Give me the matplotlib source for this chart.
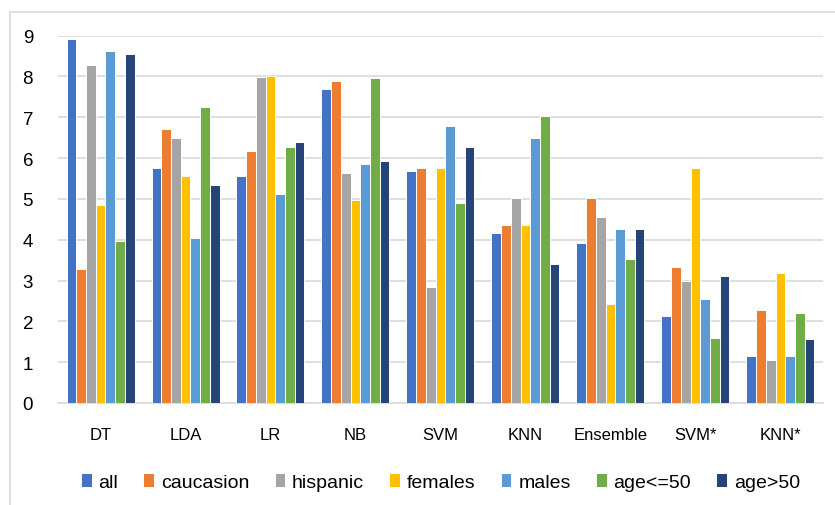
import numpy as np
import matplotlib.pyplot as plt
from matplotlib.patches import Rectangle

plt.rcParams['font.family'] = ['Liberation Sans Narrow', 'Liberation Sans', 'DejaVu Sans']

models = ["DT", "LDA", "LR", "NB", "SVM", "KNN", "Ensemble", "SVM*", "KNN*"]

all_ = [8.92, 5.75, 5.55, 7.69, 5.68, 4.17, 3.91, 2.12, 1.14]
caucasion = [3.28, 6.71, 6.18, 7.90, 5.75, 4.35, 5.02, 3.32, 2.29]
hispanic = [8.28, 6.50, 7.98, 5.63, 2.85, 5.03, 4.56, 2.98, 1.05]
females = [4.86, 5.55, 8.00, 4.98, 5.75, 4.35, 2.42, 5.75, 3.19]
males = [8.63, 4.04, 5.11, 5.85, 6.78, 6.49, 4.26, 2.55, 1.14]
age_le50 = [3.97, 7.25, 6.27, 7.97, 4.90, 7.04, 3.53, 1.60, 2.21]
age_gt50 = [8.55, 5.33, 6.40, 5.92, 6.27, 3.40, 4.26, 3.10, 1.56]

series = [
    ("all", all_, "#4472C4"),
    ("caucasion", caucasion, "#ED7D31"),
    ("hispanic", hispanic, "#A5A5A5"),
    ("females", females, "#FFC000"),
    ("males", males, "#5B9BD5"),
    ("age<=50", age_le50, "#70AD47"),
    ("age>50", age_gt50, "#264478"),
]

fig = plt.figure(figsize=(8.35, 5.06), dpi=100)
ax = fig.add_axes([0.0695, 0.2016, 0.916, 0.7259])

x = np.arange(len(models))
w = 0.8 / len(series)
for i, (name, vals, color) in enumerate(series):
    ax.bar(x - 0.4 + w * (i + 0.5), vals, w, color=color, label=name,
           edgecolor="white", linewidth=0.7, zorder=3)

ax.set_xlim(-0.5, len(models) - 0.5)
ax.set_ylim(0, 9)
ax.set_yticks(range(10))
ax.set_xticks(x)
ax.set_xticklabels(models, fontsize=12)
ax.tick_params(axis="y", labelsize=13.5, length=0, pad=18)
ax.tick_params(axis="x", length=0, pad=17)
ax.grid(axis="y", color="#D9D9D9", linewidth=1.2, zorder=0)
for s in ["top", "right", "left"]:
    ax.spines[s].set_visible(False)
ax.spines["bottom"].set_color("#D9D9D9")
ax.spines["bottom"].set_linewidth(1.2)

ax.legend(loc="center", bbox_to_anchor=(0.5, -0.215), ncol=7, frameon=False,
          fontsize=14, handlelength=0.55, handleheight=0.7, handletextpad=0.35,
          columnspacing=1.3)

# light frame around the chart
fig.patches.append(Rectangle((10 / 835, -0.1), 1.2, 1 - 13 / 506 + 0.1,
                             transform=fig.transFigure, fill=False,
                             edgecolor="#D9D9D9", linewidth=1.2))

fig.savefig("out.png", dpi=100)
